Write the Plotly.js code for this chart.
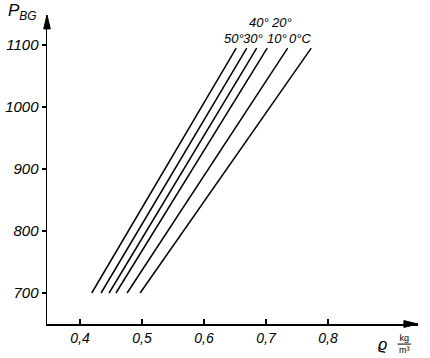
<!DOCTYPE html>
<html>
<head>
<meta charset="utf-8">
<script src="https://cdn.plot.ly/plotly-3.0.1.min.js"></script>
<style>html,body{margin:0;padding:0;background:#fff;}#chart{width:430px;height:358px;}</style>
</head>
<body>
<div id="chart"></div>
<script>
// Data
const temperatures = ['50°', '40°', '30°', '20°', '10°', '0°C'];
const pressure = [700, 1095];
const rho50 = [0.419, 0.652];
const rho40 = [0.434, 0.669];
const rho30 = [0.447, 0.685];
const rho20 = [0.458, 0.702];
const rho10 = [0.476, 0.735];
const rho0  = [0.497, 0.773];
const seriesRho = [rho50, rho40, rho30, rho20, rho10, rho0];

const xTickVals = [0.4, 0.5, 0.6, 0.7, 0.8];
const xTickText = ['0,4', '0,5', '0,6', '0,7', '0,8'];
const yTickVals = [700, 800, 900, 1000, 1100];
const yTickText = ['700', '800', '900', '1000', '1100'];

const FONT = 'Liberation Sans, Arial, sans-serif';

const traces = seriesRho.map((r, i) => ({
  type: 'scatter', mode: 'lines', x: r, y: pressure,
  name: temperatures[i],
  line: {color: '#000', width: 1.5},
  hoverinfo: 'skip', showlegend: false
}));

// label placement (offsets relative to line tops)
const labelDx = [-0.004, 0.019, -0.006, 0.023, -0.017, -0.018];
const labelDy = [16, 42, 16, 42, 16, 16];

const annotations = temperatures.map((t, i) => ({
  x: seriesRho[i][1] + labelDx[i], y: pressure[1] + labelDy[i],
  xref: 'x', yref: 'y', text: t, showarrow: false,
  font: {family: FONT, size: 13, color: '#000', style: 'italic'},
  xanchor: 'center', yanchor: 'middle'
}));

annotations.push(
  {xref: 'paper', yref: 'paper', x: -0.11, y: 1.01, xanchor: 'left', yanchor: 'middle',
   text: 'P<sub>BG</sub>', showarrow: false,
   font: {family: FONT, size: 17, color: '#000', style: 'italic'}},
  {xref: 'paper', yref: 'paper', x: 0.905, y: -0.065, xanchor: 'center', yanchor: 'middle',
   text: 'ϱ', showarrow: false,
   font: {family: FONT, size: 16, color: '#000', style: 'italic'}},
  {xref: 'paper', yref: 'paper', x: 0.963, y: -0.065, xanchor: 'center', yanchor: 'middle',
   text: 'kg<br>m³', showarrow: false,
   font: {family: FONT, size: 9, color: '#000'}}
);

const layout = {
  width: 430, height: 358,
  margin: {l: 47, r: 12, t: 15, b: 34},
  paper_bgcolor: '#fff', plot_bgcolor: '#fff',
  showlegend: false,
  xaxis: {
    range: [0.3468, 0.9452], showgrid: false, zeroline: false,
    showline: true, linecolor: '#000', linewidth: 2,
    tickvals: xTickVals, ticktext: xTickText,
    ticks: 'inside', ticklen: 5, tickwidth: 1.5, tickcolor: '#000',
    tickfont: {family: FONT, size: 14, color: '#000', style: 'italic'}
  },
  yaxis: {
    range: [650, 1148.4], showgrid: false, zeroline: false,
    showline: true, linecolor: '#000', linewidth: 1.5,
    tickvals: yTickVals, ticktext: yTickText,
    ticks: 'outside', ticklen: 4, tickwidth: 1.5, tickcolor: '#000',
    tickfont: {family: FONT, size: 15, color: '#000', style: 'italic'}
  },
  shapes: [
    {type: 'line', xref: 'paper', yref: 'paper', x0: 0.945, x1: 0.981, y0: -0.065, y1: -0.065,
     line: {color: '#000', width: 1}},
    // arrowheads at the ends of the axes
    {type: 'path', xref: 'paper', yref: 'paper',
     path: 'M 1 0 L 0.962 0.011 L 0.962 -0.011 Z',
     fillcolor: '#000', line: {color: '#000', width: 1}},
    {type: 'path', xref: 'paper', yref: 'paper',
     path: 'M 0 1 L -0.009 0.955 L 0.009 0.955 Z',
     fillcolor: '#000', line: {color: '#000', width: 1}}
  ],
  annotations: annotations
};

Plotly.newPlot('chart', traces, layout, {staticPlot: true, displayModeBar: false});
</script>
</body>
</html>
